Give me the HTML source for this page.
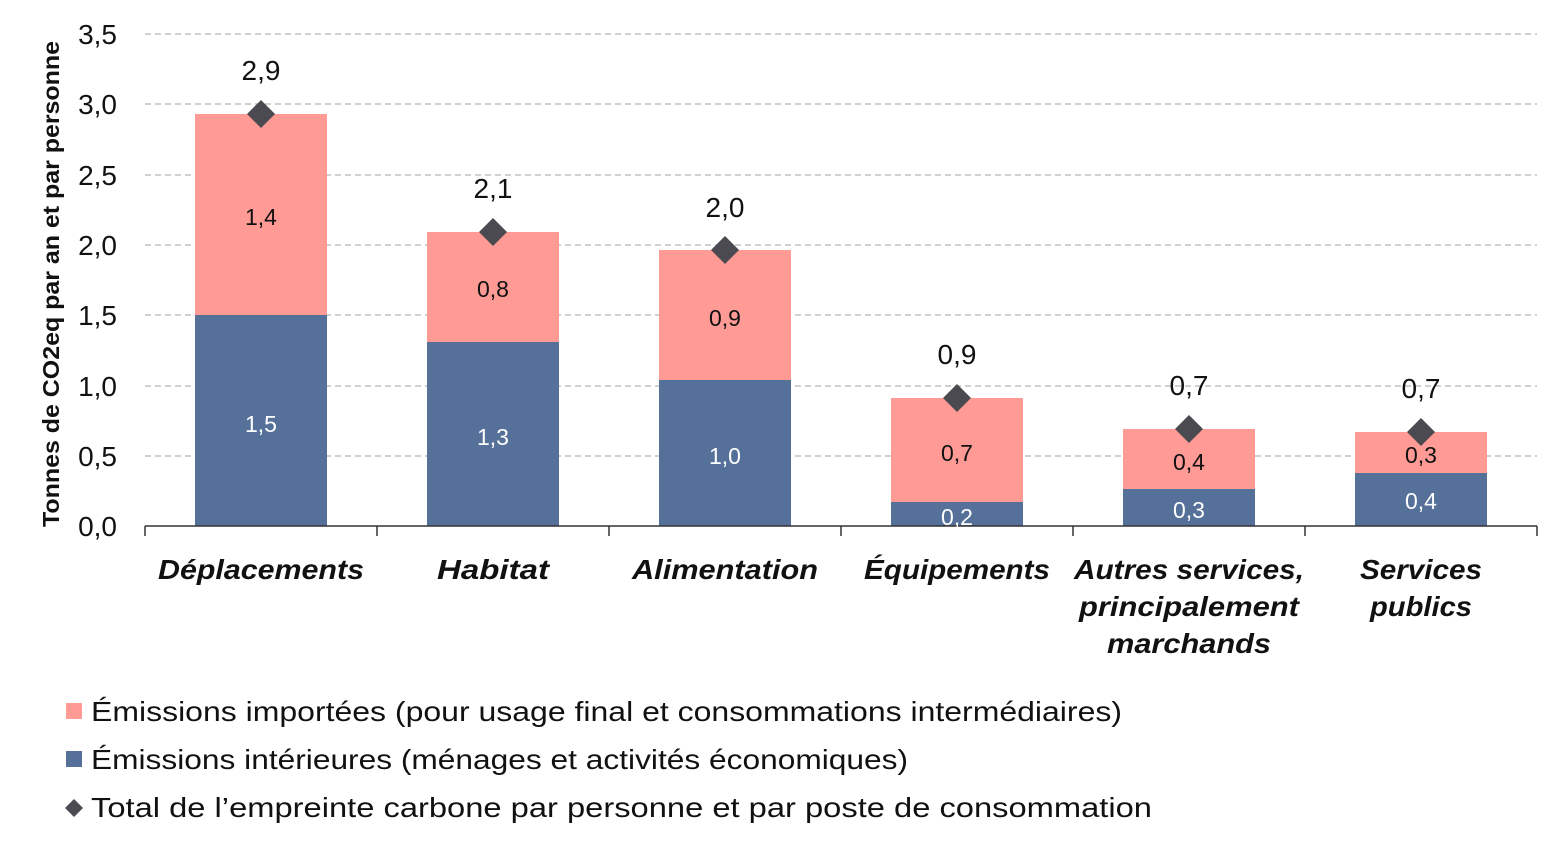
<!DOCTYPE html>
<html><head><meta charset="utf-8"><style>
body{margin:0;background:#fff;}
svg{display:block;font-family:"Liberation Sans",sans-serif;}
</style></head><body>
<svg width="1568" height="851" viewBox="0 0 1568 851">
<g stroke="#b5b5b5" stroke-width="1.3" stroke-dasharray="6,4">
<line x1="145" y1="34" x2="1537" y2="34"/><line x1="145" y1="104" x2="1537" y2="104"/>
<line x1="145" y1="175" x2="1537" y2="175"/><line x1="145" y1="245" x2="1537" y2="245"/>
<line x1="145" y1="315" x2="1537" y2="315"/><line x1="145" y1="386" x2="1537" y2="386"/>
<line x1="145" y1="456" x2="1537" y2="456"/>
</g>
<g font-size="28" fill="#111" text-anchor="end">
<text x="117" y="44">3,5</text><text x="117" y="114">3,0</text><text x="117" y="185">2,5</text>
<text x="117" y="255">2,0</text><text x="117" y="325">1,5</text><text x="117" y="396">1,0</text>
<text x="117" y="466">0,5</text><text x="117" y="536">0,0</text>
</g>
<text transform="translate(59,284) rotate(-90)" font-size="23" font-weight="bold" text-anchor="middle" fill="#111" textLength="486" lengthAdjust="spacingAndGlyphs">Tonnes de CO2eq par an et par personne</text>
<g>
<rect x="195" y="114" width="132" height="201" fill="#ff9a94"/><rect x="195" y="315" width="132" height="211" fill="#557099"/>
<rect x="427" y="232" width="132" height="110" fill="#ff9a94"/><rect x="427" y="342" width="132" height="184" fill="#557099"/>
<rect x="659" y="250" width="132" height="130" fill="#ff9a94"/><rect x="659" y="380" width="132" height="146" fill="#557099"/>
<rect x="891" y="398" width="132" height="104" fill="#ff9a94"/><rect x="891" y="502" width="132" height="24" fill="#557099"/>
<rect x="1123" y="429" width="132" height="60" fill="#ff9a94"/><rect x="1123" y="489" width="132" height="37" fill="#557099"/>
<rect x="1355" y="432" width="132" height="41" fill="#ff9a94"/><rect x="1355" y="473" width="132" height="53" fill="#557099"/>
</g>
<g stroke="#333" stroke-width="1.5">
<line x1="145" y1="526" x2="1537" y2="526"/>
<line x1="145" y1="526" x2="145" y2="536"/><line x1="377" y1="526" x2="377" y2="536"/><line x1="609" y1="526" x2="609" y2="536"/>
<line x1="841" y1="526" x2="841" y2="536"/><line x1="1073" y1="526" x2="1073" y2="536"/><line x1="1305" y1="526" x2="1305" y2="536"/><line x1="1537" y1="526" x2="1537" y2="536"/>
</g>
<g font-size="23" text-anchor="middle" fill="#111">
<text x="261" y="225">1,4</text><text x="493" y="297">0,8</text><text x="725" y="326">0,9</text>
<text x="957" y="461">0,7</text><text x="1189" y="470">0,4</text><text x="1421" y="463">0,3</text>
</g>
<g font-size="23" text-anchor="middle" fill="#fff">
<text x="261" y="432">1,5</text><text x="493" y="445">1,3</text><text x="725" y="464">1,0</text>
<text x="957" y="525">0,2</text><text x="1189" y="518">0,3</text><text x="1421" y="509">0,4</text>
</g>
<g fill="#4a4a50">
<path d="M261 100 l14 14 l-14 14 l-14 -14z"/><path d="M493 218 l14 14 l-14 14 l-14 -14z"/>
<path d="M725 236 l14 14 l-14 14 l-14 -14z"/><path d="M957 384 l14 14 l-14 14 l-14 -14z"/>
<path d="M1189 415 l14 14 l-14 14 l-14 -14z"/><path d="M1421 418 l14 14 l-14 14 l-14 -14z"/>
</g>
<g font-size="28" text-anchor="middle" fill="#111">
<text x="261" y="80">2,9</text><text x="493" y="198">2,1</text><text x="725" y="217">2,0</text>
<text x="957" y="364">0,9</text><text x="1189" y="395">0,7</text><text x="1421" y="398">0,7</text>
</g>
<g font-size="28" font-weight="bold" font-style="italic" text-anchor="middle" fill="#111" lengthAdjust="spacingAndGlyphs">
<text x="261" y="579" textLength="206" lengthAdjust="spacingAndGlyphs">Déplacements</text>
<text x="493" y="579" textLength="112" lengthAdjust="spacingAndGlyphs">Habitat</text>
<text x="725" y="579" textLength="186" lengthAdjust="spacingAndGlyphs">Alimentation</text>
<text x="957" y="579" textLength="186" lengthAdjust="spacingAndGlyphs">Équipements</text>
<text x="1189" y="579" textLength="230" lengthAdjust="spacingAndGlyphs">Autres services,</text>
<text x="1189" y="616" textLength="220" lengthAdjust="spacingAndGlyphs">principalement</text>
<text x="1189" y="653" textLength="164" lengthAdjust="spacingAndGlyphs">marchands</text>
<text x="1421" y="579" textLength="122" lengthAdjust="spacingAndGlyphs">Services</text>
<text x="1421" y="616" textLength="102" lengthAdjust="spacingAndGlyphs">publics</text>
</g>
<rect x="66" y="703" width="16" height="16" fill="#ff9a94"/>
<rect x="66" y="751" width="16" height="16" fill="#557099"/>
<path d="M74 799 l9 9 l-9 9 l-9 -9z" fill="#4a4a50"/>
<g font-size="28" fill="#111">
<text x="91" y="721" textLength="1031" lengthAdjust="spacingAndGlyphs">Émissions importées (pour usage final et consommations intermédiaires)</text>
<text x="91" y="769" textLength="817" lengthAdjust="spacingAndGlyphs">Émissions intérieures (ménages et activités économiques)</text>
<text x="91" y="817" textLength="1061" lengthAdjust="spacingAndGlyphs">Total de l’empreinte carbone par personne et par poste de consommation</text>
</g>
</svg>
</body></html>
